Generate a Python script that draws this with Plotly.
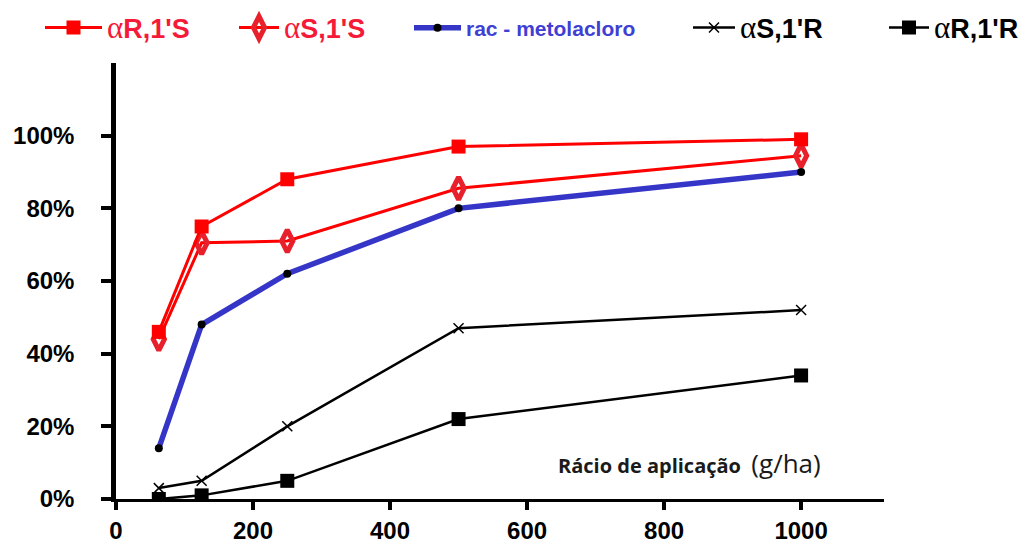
import plotly.graph_objects as go

# ---- data ----
rates = [62.5, 125, 250, 500, 1000]
aR_1S = [46, 75, 88, 97, 99]
aS_1S = [44, 70.5, 71, 85.5, 94.5]
rac_metolacloro = [14, 48, 62, 80, 90]
aS_1R = [3, 5, 20, 47, 52]
aR_1R = [0, 1, 5, 22, 34]

x_ticks = [0, 200, 400, 600, 800, 1000]
y_ticks = [0, 20, 40, 60, 80, 100]
y_ticktext = ["0%", "20%", "40%", "60%", "80%", "100%"]

ALPHA = "<span style='font-family:Liberation Serif;font-weight:normal;font-size:31px'>α</span>"
series_names = [
    ALPHA + "R,1'S",
    ALPHA + "S,1'S",
    "rac - metolacloro",
    ALPHA + "S,1'R",
    ALPHA + "R,1'R",
]

RED = "#ff0000"
RED_TXT = "#f41a38"
BLUE = "#3535c8"
BLUE_TXT = "#3f3fd4"

fig = go.Figure()

fig.add_trace(go.Scatter(
    x=rates, y=rac_metolacloro, name=series_names[2], mode="lines+markers",
    line=dict(color=BLUE, width=5.5),
    marker=dict(symbol="circle", size=8, color="black"),
    legend="legend3"))
fig.add_trace(go.Scatter(
    x=rates, y=aS_1R, name=series_names[3], mode="lines+markers",
    line=dict(color="black", width=2.5),
    marker=dict(symbol="x-thin-open", size=10, line=dict(color="black", width=1.5)),
    legend="legend4"))
fig.add_trace(go.Scatter(
    x=rates, y=aR_1R, name=series_names[4], mode="lines+markers",
    line=dict(color="black", width=2.5),
    marker=dict(symbol="square", size=14, color="black"),
    legend="legend5"))
fig.add_trace(go.Scatter(
    x=rates, y=aS_1S, name=series_names[1], mode="lines+markers",
    line=dict(color=RED, width=3),
    marker=dict(symbol="diamond-tall-open", size=16, color="#e8202c",
                line=dict(color="#e8202c", width=5)),
    legend="legend2"))
fig.add_trace(go.Scatter(
    x=rates, y=aR_1S, name=series_names[0], mode="lines+markers",
    line=dict(color=RED, width=3),
    marker=dict(symbol="square", size=14, color=RED),
    legend="legend"))

W, H = 1023, 550
L, R, T, B = 116, 139, 63, 51
pw = W - L - R
ph = H - T - B


def px2paper_x(px):
    return (px - L) / pw


def py2paper_y(py):
    return (H - B - py) / ph


leg_y = py2paper_y(28)


def legend_cfg(item_start_px, itemwidth, color, size, family="Liberation Sans"):
    return dict(
        x=px2paper_x(item_start_px), y=leg_y, xanchor="left", yanchor="middle",
        orientation="h", bgcolor="rgba(0,0,0,0)", borderwidth=0,
        itemwidth=itemwidth, tracegroupgap=0,
        font=dict(family=family, size=size, color=color, weight="bold"),
    )


fig.update_layout(
    width=W, height=H,
    margin=dict(l=L, r=R, t=T, b=B, pad=0, autoexpand=False),
    paper_bgcolor="white", plot_bgcolor="white",
    showlegend=True,
    legend=legend_cfg(40, 57, RED_TXT, 27),
    legend2=legend_cfg(234, 40, RED_TXT, 27),
    legend3=legend_cfg(409, 47, BLUE_TXT, 21),
    legend4=legend_cfg(688, 42, "black", 27),
    legend5=legend_cfg(884, 40, "black", 27),
    xaxis=dict(
        range=[0, 1121], tickvals=x_ticks, showgrid=False, zeroline=False,
        showline=True, linecolor="black", linewidth=3, automargin=False,
        ticks="outside", ticklen=8, tickwidth=3.5, tickcolor="black",
        tickfont=dict(family="Liberation Sans", size=24, color="black", weight="bold"),
        ticklabelstandoff=0,
    ),
    xaxis2=dict(
        range=[0, 1121], tickvals=x_ticks, overlaying="x", anchor="y", side="bottom",
        showgrid=False, zeroline=False, showline=False, showticklabels=False,
        ticks="inside", ticklen=8, tickwidth=3.5, tickcolor="black", automargin=False,
    ),
    yaxis=dict(
        range=[0, 120], tickvals=y_ticks, ticktext=y_ticktext, showgrid=False,
        zeroline=False, showline=True, linecolor="black", linewidth=4.5,
        ticks="outside", ticklen=10, tickwidth=4, tickcolor="black", automargin=False,
        tickfont=dict(family="Liberation Sans", size=24, color="black", weight="bold"),
        ticklabelstandoff=22,
    ),
    yaxis2=dict(
        range=[0, 120], tickvals=y_ticks, overlaying="y", anchor="x", side="left",
        showgrid=False, zeroline=False, showline=False, showticklabels=False,
        ticks="inside", ticklen=10, tickwidth=4, tickcolor="black", automargin=False,
    ),
    annotations=[dict(
        xref="paper", yref="paper", x=px2paper_x(689), y=py2paper_y(463),
        xanchor="center", yanchor="middle", showarrow=False,
        text="<span style='font-family:Open Sans;font-weight:bold;font-size:20px'>Rácio de aplicação</span>"
             "&nbsp;&nbsp;<span style='font-family:Open Sans;font-size:26px'>(g/ha)</span>",
        font=dict(color="#1a1a1a", family="Open Sans", size=20),
    )],
)

fig.write_html("out.html")
